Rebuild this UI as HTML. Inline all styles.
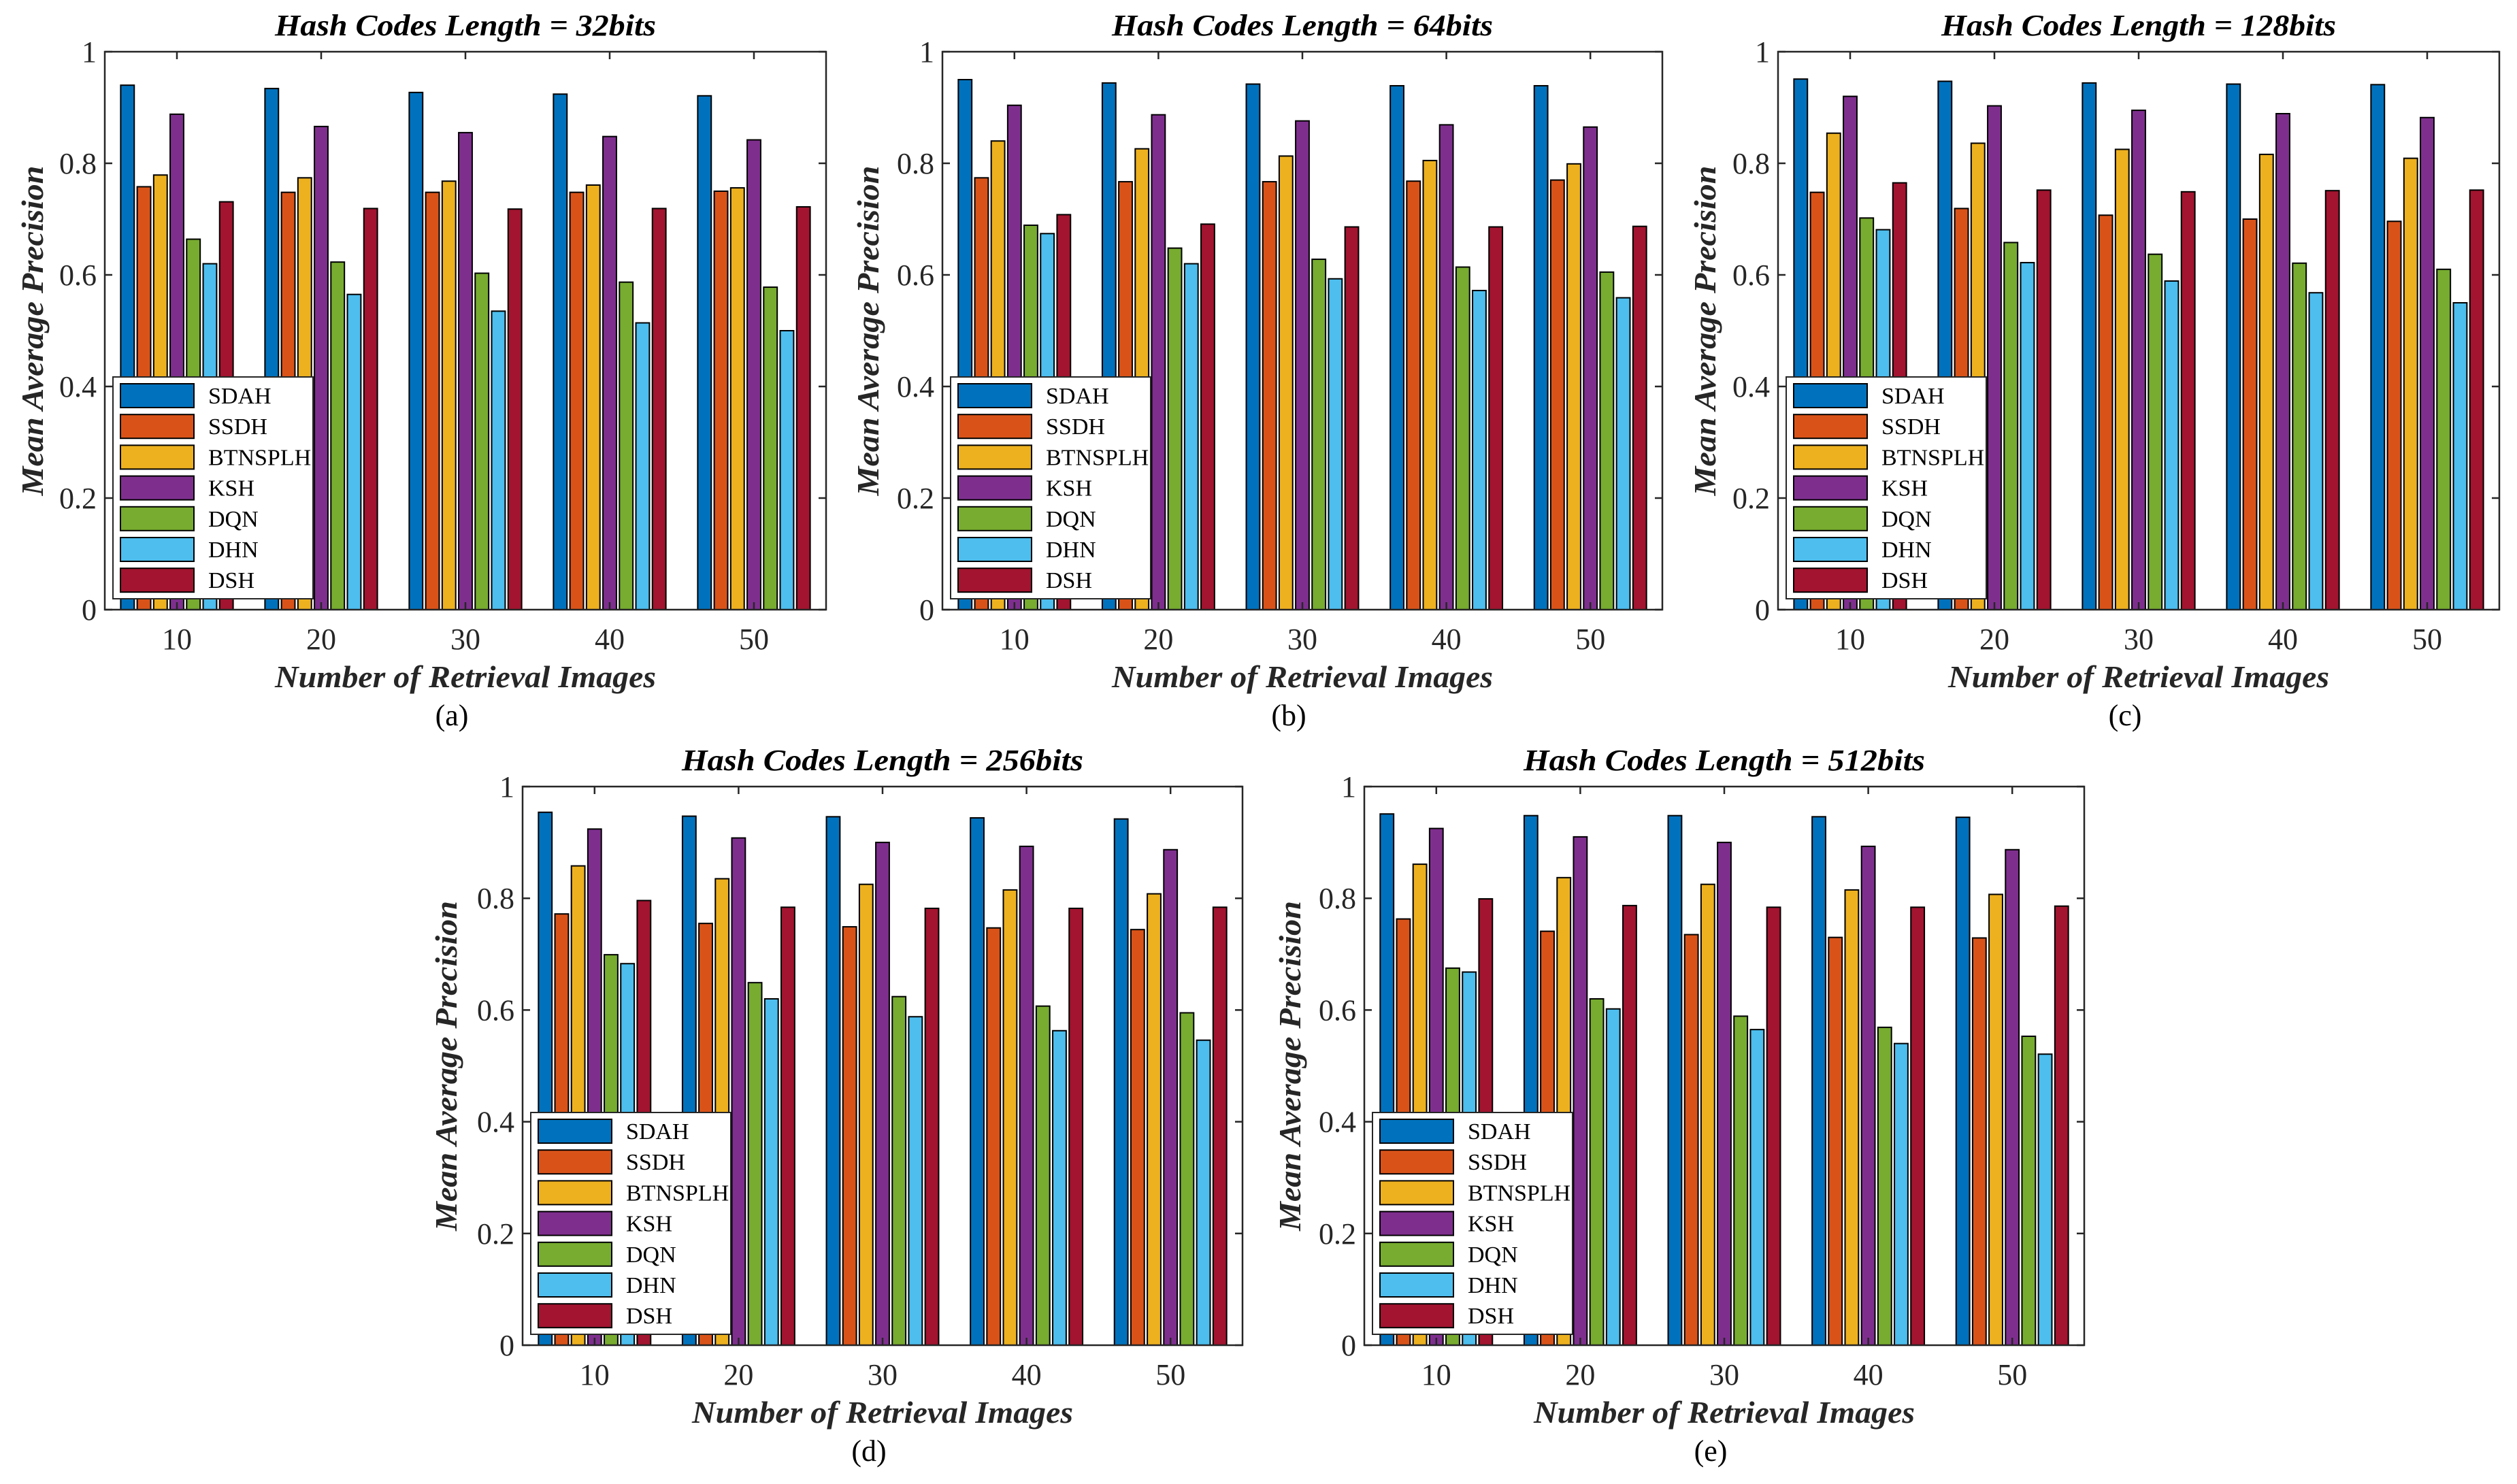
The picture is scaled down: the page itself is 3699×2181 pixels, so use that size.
<!DOCTYPE html>
<html><head><meta charset="utf-8"><style>
html,body{margin:0;padding:0;background:#fff;}
svg{display:block;font-family:"Liberation Serif",serif;}
</style></head><body>
<svg id="chart" width="3699" height="2181" viewBox="0 0 3699 2181" xmlns="http://www.w3.org/2000/svg">
<rect width="3699" height="2181" fill="#fff"/>
</svg>
<script>
const categories = [10, 20, 30, 40, 50];
const methods = ["SDAH","SSDH","BTNSPLH","KSH","DQN","DHN","DSH"];
const colors = ["#0072BD","#D95319","#EDB120","#7E2F8E","#77AC30","#4DBEEE","#A2142F"];
const yTicks = [0, 0.2, 0.4, 0.6, 0.8, 1];
const yTickLabels = ["0","0.2","0.4","0.6","0.8","1"];
const panelTitles = ["Hash Codes Length = 32bits","Hash Codes Length = 64bits","Hash Codes Length = 128bits","Hash Codes Length = 256bits","Hash Codes Length = 512bits"];
const panelLetters = ["(a)","(b)","(c)","(d)","(e)"];
const data32 = [
 [0.940,0.934,0.927,0.924,0.921],
 [0.758,0.748,0.748,0.748,0.750],
 [0.779,0.774,0.768,0.761,0.756],
 [0.888,0.866,0.855,0.848,0.842],
 [0.664,0.623,0.603,0.587,0.578],
 [0.620,0.565,0.535,0.514,0.500],
 [0.731,0.719,0.718,0.719,0.722]];
const data64 = [
 [0.950,0.944,0.942,0.939,0.939],
 [0.774,0.767,0.767,0.768,0.770],
 [0.840,0.826,0.813,0.805,0.799],
 [0.904,0.887,0.876,0.869,0.865],
 [0.689,0.648,0.628,0.614,0.605],
 [0.674,0.620,0.593,0.572,0.559],
 [0.708,0.691,0.686,0.686,0.687]];
const data128 = [
 [0.951,0.947,0.944,0.942,0.941],
 [0.748,0.719,0.707,0.700,0.696],
 [0.854,0.836,0.825,0.816,0.809],
 [0.920,0.903,0.895,0.889,0.882],
 [0.702,0.658,0.637,0.621,0.610],
 [0.681,0.622,0.589,0.568,0.550],
 [0.765,0.752,0.749,0.751,0.752]];
const data256 = [
 [0.954,0.947,0.946,0.944,0.942],
 [0.772,0.755,0.749,0.747,0.744],
 [0.858,0.835,0.825,0.815,0.808],
 [0.924,0.908,0.900,0.893,0.887],
 [0.699,0.649,0.624,0.607,0.595],
 [0.683,0.620,0.588,0.563,0.546],
 [0.796,0.784,0.782,0.782,0.784]];
const data512 = [
 [0.951,0.948,0.948,0.946,0.945],
 [0.763,0.741,0.735,0.730,0.729],
 [0.861,0.837,0.825,0.815,0.807],
 [0.925,0.910,0.900,0.893,0.887],
 [0.675,0.620,0.589,0.569,0.553],
 [0.668,0.602,0.565,0.540,0.521],
 [0.799,0.787,0.784,0.784,0.786]];
const allData = [data32,data64,data128,data256,data512];

const NS="http://www.w3.org/2000/svg";
const svg=document.getElementById('chart');
function mk(tag,attrs,parent){const e=document.createElementNS(NS,tag);for(const k in attrs)e.setAttribute(k,attrs[k]);(parent||svg).appendChild(e);return e;}

const boxes=[
 {l:154,r:1214,t:76,b:896, ylx:48},
 {l:1385,r:2443,t:76,b:896, ylx:1276},
 {l:2613,r:3673,t:76,b:896, ylx:2506},
 {l:768,r:1826,t:1156,b:1977, ylx:656},
 {l:2005,r:3063,t:1156,b:1977, ylx:1896}];

boxes.forEach((bx,pi)=>{
  const g=mk('g',{});
  
  
  const data=allData[pi];
  const W=bx.r-bx.l, H=bx.b-bx.t;
  const xs=v=>bx.l+(v-5)/50*W;
  const ys=v=>bx.b-v*H;
  const slot=W/5, step=slot*0.8/7, bw=step*0.82;
  methods.forEach((m,si)=>{
    categories.forEach((c,ci)=>{
      const v=data[si][ci];
      const cx=xs(c)-slot*0.4+step*(si+0.5);
      const r=mk('rect',{x:cx-bw/2,y:ys(v),width:bw,height:ys(0)-ys(v),fill:colors[si],stroke:'#000','stroke-width':2},g);
      
      
    });
  });
  const ax=mk('rect',{x:bx.l,y:bx.t,width:W,height:H,fill:'none',stroke:'#262626','stroke-width':2.5},g);
  
  
  yTicks.forEach((t,i)=>{
    const y=ys(t);
    mk('line',{x1:bx.l,x2:bx.l+11,y1:y,y2:y,stroke:'#262626','stroke-width':2.5},g);
    mk('line',{x1:bx.r,x2:bx.r-11,y1:y,y2:y,stroke:'#262626','stroke-width':2.5},g);
    const tx=mk('text',{x:bx.l-12,y:y+15,'text-anchor':'end','font-size':44,fill:'#262626'},g);
    tx.textContent=yTickLabels[i];
    
    
  });
  categories.forEach(c=>{
    const x=xs(c);
    mk('line',{x1:x,x2:x,y1:bx.b,y2:bx.b-11,stroke:'#262626','stroke-width':2.5},g);
    mk('line',{x1:x,x2:x,y1:bx.t,y2:bx.t+11,stroke:'#262626','stroke-width':2.5},g);
    const tx=mk('text',{x:x,y:bx.b+58,'text-anchor':'middle','font-size':44,fill:'#262626'},g);
    tx.textContent=String(c);
    
    
  });
  const cx=(bx.l+bx.r)/2;
  const ti=mk('text',{x:cx,y:bx.t-24,'text-anchor':'middle','font-size':44,'font-weight':'bold','font-style':'italic',textLength:560+(pi==2?20:0)+(pi==3||pi==4?30:0),lengthAdjust:'spacingAndGlyphs'},g);
  ti.textContent=panelTitles[pi];
  
  
  const xl=mk('text',{x:cx,y:bx.b+114,'text-anchor':'middle','font-size':46,'font-weight':'bold','font-style':'italic',fill:'#262626',textLength:560,lengthAdjust:'spacingAndGlyphs'},g);
  xl.textContent='Number of Retrieval Images';
  
  
  const cap=mk('text',{x:cx-20,y:bx.b+170,'text-anchor':'middle','font-size':44},g);
  cap.textContent=panelLetters[pi];
  
  
  const ymid=(bx.t+bx.b)/2;
  const yl=mk('text',{x:bx.ylx,y:ymid,'text-anchor':'middle','font-size':46,'font-weight':'bold','font-style':'italic',fill:'#262626',transform:'rotate(-90 '+(bx.ylx)+' '+ymid+')',dy:15,textLength:485,lengthAdjust:'spacingAndGlyphs'},g);
  yl.textContent='Mean Average Precision';
  
  
  const lg=mk('g',{},g);
  
  
  const lx=bx.l+12, lyb=bx.b-16, lh=326, lw=294;
  mk('rect',{x:lx,y:lyb-lh,width:lw,height:lh,fill:'#fff',stroke:'#262626','stroke-width':2},lg);
  methods.forEach((m,si)=>{
    const ey=lyb-lh+10+si*45.2;
    const e=mk('g',{},lg);
    
    
    mk('rect',{x:lx+11,y:ey,width:108,height:35,fill:colors[si],stroke:'#000','stroke-width':2},e);
    const t=mk('text',{x:lx+140,y:ey+29,'font-size':34,fill:'#000'},e);
    t.textContent=m;
  });
});
</script>
</body></html>
